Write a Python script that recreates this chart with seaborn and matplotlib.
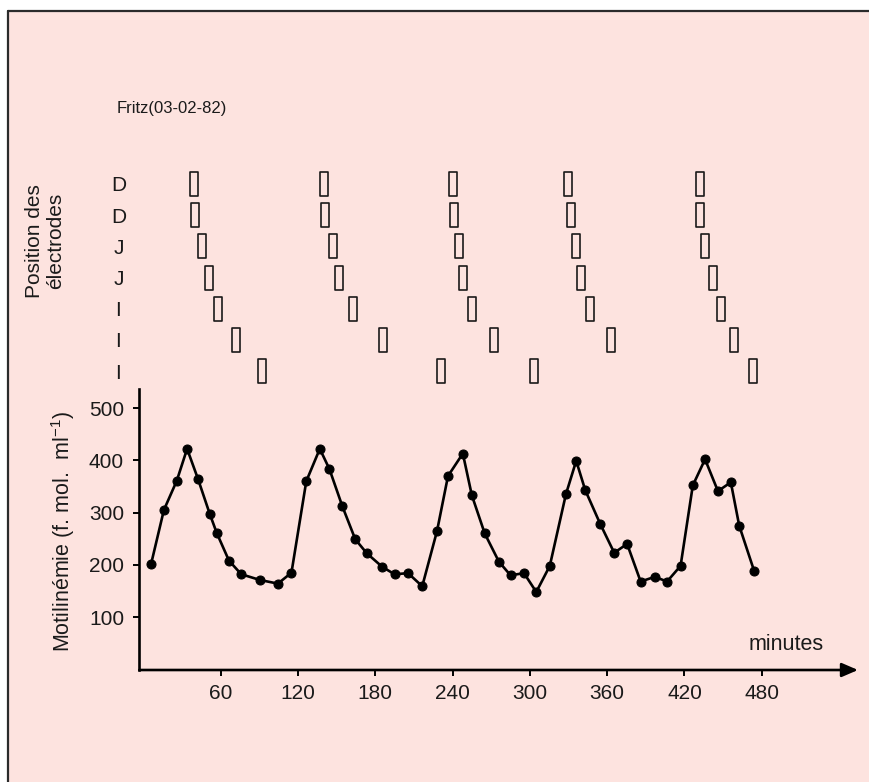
import pandas as pd
import matplotlib.pyplot as plt
import seaborn as sns
from matplotlib.path import Path
from matplotlib.patches import Rectangle
from matplotlib.lines import Line2D


# -------------------------
# DATA
# -------------------------
minutes = [6, 16, 26, 34, 42.5, 51.5, 57, 66.5, 76, 90.5, 104.5, 115,
           126.5, 137, 144.5, 154.5, 164.5, 173.5, 185.5, 195, 205.5, 216.5,
           228, 236.5, 248, 255, 265, 276, 285, 295.5, 305, 315.5,
           328, 336, 343, 354.5, 365.5, 375.5, 386, 397, 406.5, 417,
           426.5, 436, 446, 456, 462.5, 474]
motilin = [201, 305, 361, 422, 364, 298, 261, 208, 182, 171, 164, 185,
           360, 422, 383, 312, 249, 222, 196, 182, 184, 159,
           265, 370, 413, 333, 260, 206, 180, 184, 148, 198,
           335, 399, 343, 279, 223, 240, 168, 177, 168, 198,
           352, 402, 341, 358, 275, 189]

electrode_labels = ["D", "D", "J", "J", "I", "I", "I"]
phase3_row1 = [39, 140.5, 240.5, 330, 432]
phase3_row2 = [40, 141, 241, 332, 432]
phase3_row3 = [45.5, 147.5, 245, 336, 436]
phase3_row4 = [51, 152, 248, 339.5, 442]
phase3_row5 = [58, 162.5, 255.5, 347, 448.5]
phase3_row6 = [72, 186, 272.5, 363, 458.5]
phase3_row7 = [92.5, 231, 303.5, 473]

x_ticks = [60, 120, 180, 240, 300, 360, 420, 480]
y_ticks = [100, 200, 300, 400, 500]

PINK = "#fde3df"

# -------------------------
# STYLE
# -------------------------
sns.set_theme(style="ticks")
plt.rcParams["font.family"] = ["Liberation Sans", "DejaVu Sans"]
plt.rcParams["mathtext.default"] = "regular"

W, H = 869, 782
fig = plt.figure(figsize=(W / 100, H / 100), dpi=100)
fig.patch.set_facecolor("white")

# pink panel with top and left border
fig.add_artist(Rectangle((8 / W, 0), 1 - 8 / W, 1 - 11 / H, transform=fig.transFigure,
                         facecolor=PINK, edgecolor="none", zorder=0))
fig.add_artist(Line2D([8 / W, 8 / W], [0, 1 - 11 / H], color="#2b2b2b", lw=1.6))
fig.add_artist(Line2D([8 / W, 1], [1 - 11 / H, 1 - 11 / H], color="#2b2b2b", lw=1.6))

# -------------------------
# MAIN CURVE
# -------------------------
ax_left = 139.3 / W
ax_w = (858 - 139.3) / W
ax = fig.add_axes([ax_left, (H - 670) / H, ax_w, (670 - 389) / H])
ax.set_facecolor("none")

sns.lineplot(x=minutes, y=motilin, ax=ax, color="black", linewidth=1.9,
             marker="o", markersize=6.5, markeredgecolor="black", sort=False)

x_lo, x_hi = -3.1, 554.7
ax.set_xlim(x_lo, x_hi)
ax.set_ylim(-1.3, 536.5)
ax.set_xticks(x_ticks)
ax.set_yticks(y_ticks)
ax.tick_params(axis="both", labelsize=15, width=1.4, length=4, color="black",
               labelcolor="#1a1a1a")
ax.tick_params(axis="x", pad=6)
ax.tick_params(axis="y", pad=7)
for s in ["top", "right", "bottom"]:
    ax.spines[s].set_visible(False)
ax.spines["left"].set_linewidth(1.9)
ax.spines["left"].set_color("black")
ax.annotate("", xy=(1, 0), xytext=(0, 0), xycoords="axes fraction",
            arrowprops=dict(arrowstyle="-|>,head_length=0.65,head_width=0.28",
                            lw=1.9, color="black", mutation_scale=15,
                            shrinkA=0, shrinkB=0))

fig.text(786 / W, 1 - 645 / H, "minutes", fontsize=15.5, ha="center", va="center",
         color="#1a1a1a")
fig.text(63 / W, 1 - 532 / H, "Motilinémie (f. mol.  ml$^{-1}$)", fontsize=15.5,
         rotation=90, ha="center", va="center", color="#1a1a1a")

# -------------------------
# ELECTRODE POSITIONS (phase III)
# -------------------------
rows = [phase3_row1, phase3_row2, phase3_row3, phase3_row4,
        phase3_row5, phase3_row6, phase3_row7]
df = pd.DataFrame([(t, i) for i, r in enumerate(rows) for t in r], columns=["t", "row"])

ax2 = fig.add_axes([ax_left, (H - 386.6) / H, ax_w, 218.2 / H])
ax2.set_facecolor("none")
rect = Path([(-0.3, -1), (0.3, -1), (0.3, 1), (-0.3, 1), (-0.3, -1)],
            [Path.MOVETO, Path.LINETO, Path.LINETO, Path.LINETO, Path.CLOSEPOLY])
sns.scatterplot(data=df, x="t", y="row", ax=ax2, marker=rect, s=290,
                color=PINK, edgecolor="#1a1a1a", linewidth=1.2)
ax2.set_xlim(x_lo, x_hi)
ax2.set_ylim(6.5, -0.5)
ax2.set_yticks(range(len(electrode_labels)))
ax2.set_yticklabels(electrode_labels, ha="center")
ax2.tick_params(axis="y", length=0, pad=15, labelsize=15, labelcolor="#1a1a1a")
ax2.set_xticks([])
ax2.set_xlabel("")
ax2.set_ylabel("")
for s in ax2.spines.values():
    s.set_visible(False)

fig.text(45 / W, 1 - 241 / H, "Position des\nélectrodes", fontsize=15, rotation=90,
         ha="center", va="center", multialignment="center", color="#1a1a1a",
         linespacing=1.1)
fig.text(117 / W, 1 - 108 / H, "Fritz(03-02-82)", fontsize=12, ha="left", va="center",
         color="#1a1a1a")

fig.savefig("out.png", dpi=100, facecolor=fig.get_facecolor())
